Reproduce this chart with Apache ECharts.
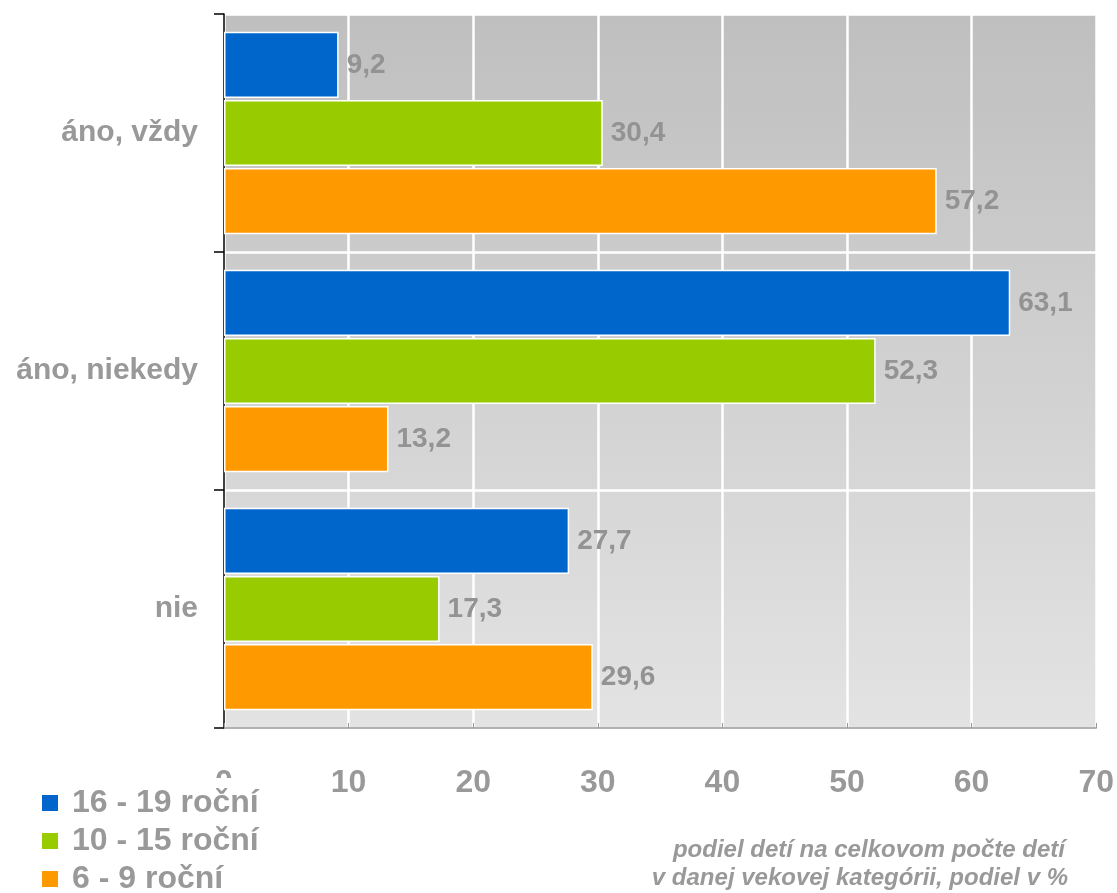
<!DOCTYPE html>
<html>
<head>
<meta charset="utf-8">
<script src="https://cdn.jsdelivr.net/npm/echarts@6/dist/echarts.min.js"></script>
<style>
html,body{margin:0;padding:0;background:#fff;}
#chart{width:1117px;height:893px;}
</style>
</head>
<body>
<div id="chart"></div>
<script>
const categories = ['áno, vždy', 'áno, niekedy', 'nie'];
const seriesNames = ['16 - 19 roční', '10 - 15 roční', '6 - 9 roční'];
const values16to19 = [9.2, 63.1, 27.7];
const values10to15 = [30.4, 52.3, 17.3];
const values6to9 = [57.2, 13.2, 29.6];
const xTicks = [0, 10, 20, 30, 40, 50, 60, 70];
const axisTitleLines = ['podiel detí na celkovom počte detí', 'v danej vekovej kategórii, podiel v %'];
const colors = ['#0066CC', '#99CC00', '#FF9900'];

const FONT = 'Liberation Sans, Arial, sans-serif';
const GRAY = '#999999';

const chart = echarts.init(document.getElementById('chart'));
const fmt = p => String(p.value).replace('.', ',');
function mkSeries(name, data, color) {
  return {
    name: name,
    type: 'bar',
    data: data,
    barCategoryGap: '15%',
    barGap: '3%',
    itemStyle: { color: color, borderColor: '#ffffff', borderWidth: 1.5 },
    label: {
      show: true, position: 'right', distance: 8,
      color: '#939393', fontFamily: FONT, fontWeight: 'bold', fontSize: 28,
      formatter: fmt
    }
  };
}
chart.setOption({
  animation: false,
  color: colors,
  grid: {
    left: 224, right: 20, top: 14, bottom: 165,
    show: true, borderWidth: 0,
    backgroundColor: new echarts.graphic.LinearGradient(0, 0, 0, 1, [
      { offset: 0, color: '#bfbfbf' },
      { offset: 1, color: '#e3e3e3' }
    ])
  },
  xAxis: {
    type: 'value', min: xTicks[0], max: xTicks[xTicks.length - 1], interval: 10,
    axisLine: { show: true, lineStyle: { color: '#999999', width: 1.5 } },
    axisTick: { show: true, inside: true, length: 5, lineStyle: { color: '#999999' } },
    splitLine: { show: true, lineStyle: { color: '#ffffff', width: 2.5 } },
    axisLabel: { color: GRAY, fontFamily: FONT, fontWeight: 'bold', fontSize: 32, margin: 39 }
  },
  yAxis: {
    type: 'category', data: categories, inverse: true,
    axisLine: { show: true, lineStyle: { color: '#000000', width: 1.5 } },
    axisTick: { show: true, length: 10, lineStyle: { color: '#000000', width: 1.5 } },
    splitLine: { show: true, lineStyle: { color: '#ffffff', width: 2.5 } },
    axisLabel: { color: GRAY, fontFamily: FONT, fontWeight: 'bold', fontSize: 30, margin: 26 }
  },
  legend: {
    orient: 'vertical', left: 35, top: 778, height: 122,
    backgroundColor: '#ffffff', padding: [9, 10, 2, 5],
    icon: 'rect', itemWidth: 18, itemHeight: 18, itemGap: 6,
    textStyle: { color: GRAY, fontFamily: FONT, fontWeight: 'bold', fontSize: 32, padding: [0, 0, 0, 8] },
    data: seriesNames
  },
  graphic: [{
    type: 'text', right: 52, top: 838,
    style: { text: axisTitleLines[0], fill: GRAY, font: 'italic bold 24px ' + FONT }
  }, {
    type: 'text', right: 49, top: 866,
    style: { text: axisTitleLines[1], fill: GRAY, font: 'italic bold 24px ' + FONT }
  }],
  series: [
    mkSeries(seriesNames[0], values16to19, colors[0]),
    mkSeries(seriesNames[1], values10to15, colors[1]),
    mkSeries(seriesNames[2], values6to9, colors[2])
  ]
});
</script>
</body>
</html>
